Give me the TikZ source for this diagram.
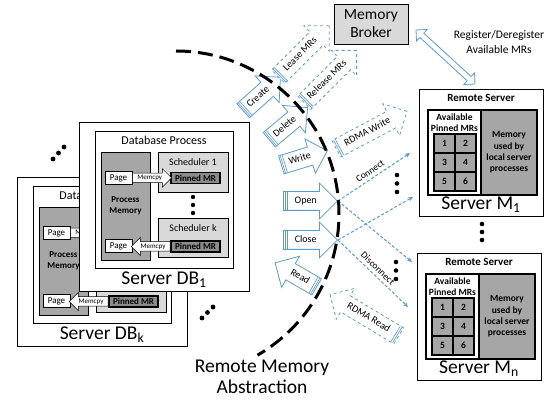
\documentclass[tikz,border=0pt]{standalone}
\usepackage{fontspec}
\setmainfont{Carlito}
\usetikzlibrary{arrows.meta, shapes.arrows, calc}

\definecolor{msblue}{RGB}{91,155,213}
\definecolor{lightgr}{RGB}{217,217,217}
\definecolor{midgr}{RGB}{166,166,166}
\definecolor{darkgr}{RGB}{140,140,140}

\tikzset{
  srvbox/.style={draw=black, line width=0.9pt},
  bigtext/.style={font=\fontsize{19.5}{21}\selectfont},
  pagebox/.style={draw=black, fill=white, line width=0.7pt, inner sep=1pt, minimum width=27pt, minimum height=13pt, font=\fontsize{9}{10}\selectfont},
  pinbox/.style={draw=black, fill=darkgr, line width=1.2pt, inner sep=1pt, minimum width=49pt, minimum height=11pt, font=\fontsize{9}{10}\selectfont\bfseries},
  copyarrow/.style={single arrow, draw=black, fill=white, line width=0.5pt, anchor=tail, minimum height=39pt, single arrow head extend=4.5pt, inner xsep=1pt, inner ysep=1.25pt, text height=5pt, text depth=1.5pt, font=\fontsize{7}{8}\selectfont},
  opsarrow/.style={single arrow, draw=msblue, fill=white, line width=0.8pt, anchor=tail, single arrow head extend=8.5pt, inner xsep=2pt, inner ysep=4.5pt, text height=7pt, text depth=2pt, font=\fontsize{10}{11}\selectfont},
  dashedop/.style={opsarrow, dashed},
  stripe/.style={draw=msblue, line width=0.6pt},
  link/.style={draw=msblue, line width=1pt, dash pattern=on 3pt off 2pt, -{Stealth[length=5pt,width=4.5pt]}},
  cell/.style={draw=black, fill=midgr, line width=1.3pt},
}

\begin{document}
\begin{tikzpicture}[x=1pt, y=-1pt]
  \path[use as bounding box, fill=white] (0,0) rectangle (555,403);

  % database servers, the back one first
  \foreach \s/\dx/\dy in {k/-62/55, 1/0/0}{
    \begin{scope}[shift={(\dx,\dy)}]
      \draw[srvbox, fill=white] (79,122) rectangle (249,291);
      \node[bigtext] (srv\s) at (164,280) {Server DB\textsubscript{\s}};
      \draw[srvbox, fill=white] (95,131) rectangle (233,268);
      \node[font=\fontsize{12}{13}\selectfont] (dbp\s) at (164,140) {Database Process};
      \draw[srvbox, fill=midgr] (101,152) rectangle (150,260);
      \node[font=\fontsize{9}{11}\selectfont\bfseries, align=center] (pmem\s) at (125.5,206) {Process\\Memory};
      \draw[srvbox, fill=lightgr] (158,152) rectangle (228,192);
      \node[font=\fontsize{10}{11}\selectfont] (scha\s) at (193,162) {Scheduler 1};
      \draw[srvbox, fill=lightgr] (158,218) rectangle (228,257);
      \node[font=\fontsize{10}{11}\selectfont] (schb\s) at (193,228) {Scheduler k};
      \node[pagebox] (pga\s) at (118.5,178) {Page};
      \node[pinbox] (pna\s) at (195.5,178) {Pinned MR};
      \node[copyarrow] at (pga\s.east) {Memcpy};
      \node[pagebox] (pgb\s) at (118.5,246) {Page};
      \node[pinbox] (pnb\s) at (195.5,246.5) {Pinned MR};
      \node[copyarrow, shape border rotate=180] at (pnb\s.west) {Memcpy};
      \foreach \y in {197,205,213}
        \fill (193,\y) circle (2.2pt);
    \end{scope}
  }
  \foreach \x/\y in {53/159, 58.5/153, 64/147, 202/318, 207.5/312.5, 213/307}
    \fill (\x,\y) circle (2.4pt);

  % memory servers
  \foreach \m/\dx/\dy in {1/0/0, n/-2/164}{
    \begin{scope}[shift={(\dx,\dy)}]
      \draw[srvbox, fill=white] (419,89) rectangle (543,216);
      \node[font=\fontsize{11}{12}\selectfont\bfseries] (rs\m) at (481,98) {Remote Server};
      \draw[srvbox, line width=1.1pt, fill=white] (428,110) rectangle (481,195);
      \draw[srvbox, line width=1.1pt, fill=midgr] (481,110) rectangle (537,195);
      \node[font=\fontsize{9.5}{11}\selectfont\bfseries, align=center] (avl\m) at (454.5,122.5) {Available\\Pinned MRs};
      \node[font=\fontsize{9.5}{11.3}\selectfont\bfseries, align=center] (used\m) at (509,152.5) {Memory\\used by\\local server\\processes};
      \foreach \i/\c/\r in {1/0/0, 2/1/0, 3/0/1, 4/1/1, 5/0/2, 6/1/2}{
        \draw[cell] ({434+21*\c},{134+19*\r}) rectangle ++(21,19);
        \node[font=\fontsize{9.5}{11}\selectfont\bfseries] at ({444.5+21*\c},{143.5+19*\r}) {\i};
      }
      \node[bigtext] (srvm\m) at (481,205) {Server M\textsubscript{\m}};
    \end{scope}
  }
  \foreach \x/\y in {482/224, 482/232, 482/240, 397/175, 397/183.5, 397/192, 396/262, 396/270.5, 396/279}
    \fill (\x,\y) circle (2.3pt);

  % broker
  \node[draw=black, fill=lightgr, line width=0.9pt, minimum width=74pt, minimum height=40pt, align=center, font=\fontsize{15.5}{18}\selectfont] (broker) at (371,24) {Memory\\Broker};
  \node[double arrow, draw=msblue, fill=white, line width=0.8pt, minimum height=80pt, double arrow head extend=5pt, inner xsep=0pt, inner ysep=2.5pt, text height=0pt, text depth=0pt, rotate=-42.5] (regarrow) at (445.5,57) {};
  \node[font=\fontsize{11.5}{15}\selectfont, align=center] (reglab) at (499,42) {Register/Deregister\\Available MRs};

  % block arrows
  \node[opsarrow, rotate=42, minimum height=50pt] (create) at (243,111) {Create};
  \node[opsarrow, rotate=40, minimum height=50pt] (delete) at (269,140) {Delete};
  \node[dashedop, rotate=45, minimum height=72pt] (lease) at (278,77) {Lease MRs};
  \node[dashedop, rotate=45, minimum height=74pt] (release) at (304,103) {Release MRs};
  \node[opsarrow, rotate=17, minimum height=48pt] (write) at (281,165) {Write};
  \node[dashedop, rotate=28, minimum height=80pt] (rdmawrite) at (336,149) {RDMA Write};
  \node[opsarrow, minimum height=54pt] (open) at (283,201) {Open};
  \node[opsarrow, minimum height=54pt] (close) at (283,240) {Close};
  \node[opsarrow, shape border rotate=180, rotate=-30, minimum height=48pt] (read) at (317,287) {Read};
  \node[dashedop, shape border rotate=180, rotate=-31, minimum height=80pt] (rdmaread) at (399,336) {RDMA Read};
  \foreach \n in {create, delete, lease, release, write, rdmawrite, open, close, read, rdmaread}
    \foreach \d in {2pt, 4pt}
      \draw[stripe] ($(\n.tail)!\d!(\n.tip)!9pt!90:(\n.tip)$) -- ($(\n.tail)!\d!(\n.tip)!9pt!-90:(\n.tip)$);

  % connections
  \coordinate (m1a) at (410,153);
  \coordinate (m1b) at (413,197);
  \coordinate (mna) at (412,262);
  \coordinate (mnb) at (408,307);
  \draw[link] (open.tip) -- node[sloped, above, font=\fontsize{9.5}{10}\selectfont] {Connect} (m1a);
  \draw[link] (open.tip) -- (mna);
  \draw[link] (close.tip) -- (m1b);
  \draw[link] (close.tip) -- node[sloped, above, font=\fontsize{9.5}{10}\selectfont] {Disconnect} (mnb);

  % abstraction boundary
  \draw[line width=3pt, dash pattern=on 15pt off 7pt] (176,51) arc[start angle=-90, end angle=60, radius=163];
  \node[bigtext, align=center] (abstr) at (262,377) {Remote Memory\\Abstraction};
\end{tikzpicture}
\end{document}
